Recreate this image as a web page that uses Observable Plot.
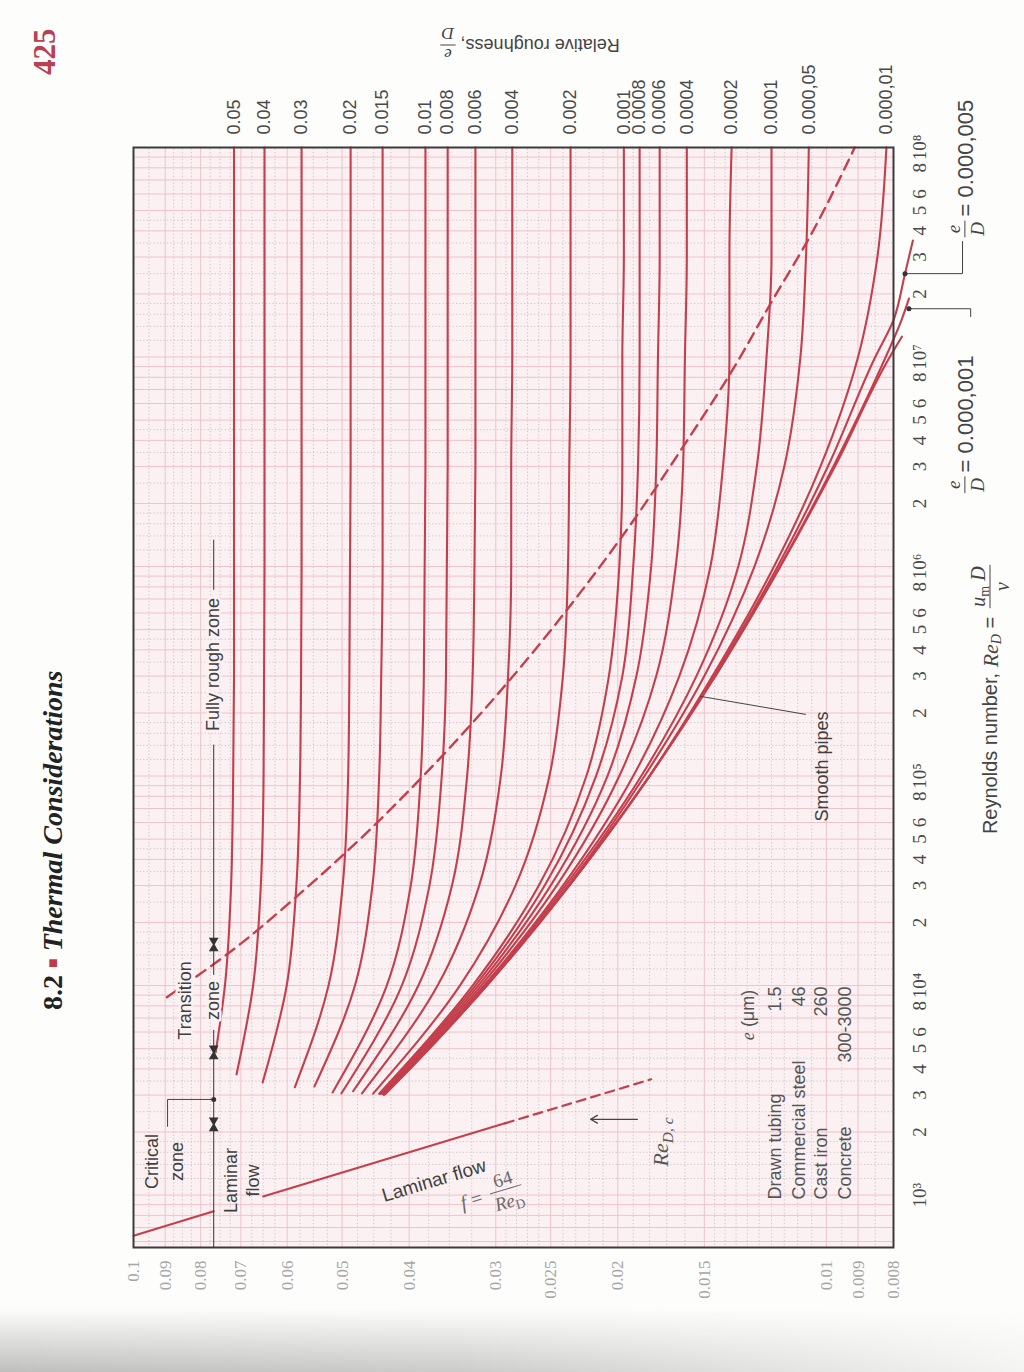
<!DOCTYPE html>
<html><head><meta charset="utf-8">
<script src="https://cdn.jsdelivr.net/npm/d3@7"></script>
<script src="https://cdn.jsdelivr.net/npm/@observablehq/plot@0.6"></script>
<style>
html,body{margin:0;padding:0;background:#fdfdfc;}
body{width:1024px;height:1372px;position:relative;overflow:hidden;}
#page{position:absolute;left:0;top:0;width:1372px;height:1024px;transform-origin:0 0;transform:translate(0px,1372px) rotate(-90deg);}
#page svg{position:absolute;left:0;top:0;}
.hdr{position:absolute;font-family:"Liberation Serif","Times New Roman",serif;font-weight:bold;white-space:nowrap;}
#shade{position:absolute;left:0;right:0;bottom:0;height:64px;pointer-events:none;
 background:linear-gradient(to right, rgba(253,253,252,0) 0%, rgba(253,253,252,0.2) 45%, rgba(253,253,252,0.85) 100%),
            linear-gradient(to bottom, rgba(140,140,140,0) 0%, rgba(140,140,140,0.55) 100%);}
</style></head>
<body>
<div id="page">
  <div class="hdr" style="left:362px;top:37px;font-size:28px;color:#222">8.2 <span style="color:#c0394b;font-size:16px;vertical-align:4px">&#9632;</span> <i>Thermal Considerations</i></div>
  <div class="hdr" style="left:1297px;top:27px;font-size:31px;color:#b8404f">425</div>
</div>
<div id="shade"></div>
<script>
// ---------------- data ----------------
const reDomain = [562, 1e8];
const fDomain = [0.008, 0.1];

const fTicks = [0.1,0.09,0.08,0.07,0.06,0.05,0.04,0.03,0.025,0.02,0.015,0.01,0.009,0.008];
const fTickLabels = ["0.1","0.09","0.08","0.07","0.06","0.05","0.04","0.03","0.025","0.02","0.015","0.01","0.009","0.008"];

const reTicks = [1e3,2e3,3e3,4e3,5e3,6e3,8e3, 1e4,2e4,3e4,4e4,5e4,6e4,8e4, 1e5,2e5,3e5,4e5,5e5,6e5,8e5,
                 1e6,2e6,3e6,4e6,5e6,6e6,8e6, 1e7,2e7,3e7,4e7,5e7,6e7,8e7, 1e8];
const reTickLabels = ["10³","2","3","4","5","6","8", "10⁴","2","3","4","5","6","8", "10⁵","2","3","4","5","6","8",
                      "10⁶","2","3","4","5","6","8", "10⁷","2","3","4","5","6","8", "10⁸"];

// relative roughness curves
const roughLabels = ["0.05","0.04","0.03","0.02","0.015","0.01","0.008","0.006","0.004","0.002",
                     "0.001","0.0008","0.0006","0.0004","0.0002","0.0001","0.000,05","0.000,01"];
const roughStartRe = [4800,3770,3450,3270,3300,3090,3060,3130,3060,3050,3050,3040,3040,3040,3040,3040,3040,3040];
const roughGridRe = [1e4,3e4,1e5,3e5,1e6,3e6,1e7,3e7,1e8];
// first value: f at the curve start, then f at each roughGridRe
const roughF = [
  [0.0761,0.0738,0.0723,0.0718,0.0716,0.0716,0.0716,0.0716,0.0716,0.0716],
  [0.0710,0.0672,0.0655,0.0649,0.0648,0.0647,0.0647,0.0647,0.0647,0.0647],
  [0.0651,0.0601,0.0582,0.0575,0.0573,0.0572,0.0572,0.0572,0.0572,0.0572],
  [0.0585,0.0523,0.0499,0.0490,0.0488,0.0487,0.0486,0.0486,0.0486,0.0486],
  [0.0548,0.0479,0.0452,0.0442,0.0439,0.0437,0.0437,0.0437,0.0437,0.0437],
  [0.0516,0.0431,0.0398,0.0385,0.0381,0.0380,0.0379,0.0379,0.0379,0.0379],
  [0.0501,0.0410,0.0374,0.0359,0.0354,0.0353,0.0352,0.0352,0.0352,0.0352],
  [0.0482,0.0388,0.0347,0.0330,0.0324,0.0322,0.0321,0.0321,0.0321,0.0321],
  [0.0468,0.0364,0.0317,0.0295,0.0288,0.0285,0.0285,0.0284,0.0284,0.0284],
  [0.0451,0.0338,0.0281,0.0251,0.0240,0.0236,0.0235,0.0234,0.0234,0.0234],
  [0.0442,0.0324,0.0260,0.0222,0.0206,0.0199,0.0197,0.0197,0.0196,0.0196],
  [0.0441,0.0321,0.0255,0.0215,0.0197,0.0190,0.0187,0.0186,0.0186,0.0186],
  [0.0439,0.0318,0.0250,0.0207,0.0188,0.0179,0.0176,0.0175,0.0174,0.0174],
  [0.0437,0.0315,0.0245,0.0199,0.0176,0.0165,0.0161,0.0160,0.0159,0.0159],
  [0.0435,0.0312,0.0240,0.0190,0.0163,0.0147,0.0141,0.0138,0.0138,0.0137],
  [0.0434,0.0310,0.0238,0.0185,0.0154,0.0134,0.0126,0.0122,0.0120,0.0120],
  [0.0434,0.0310,0.0236,0.0183,0.0150,0.0127,0.0115,0.0109,0.0107,0.0106],
  [0.0433,0.0309,0.0235,0.0180,0.0146,0.0119,0.0102,0.0090,0.00844,0.00819]
];

const smoothRe = [3000,4000,1e4,3e4,1e5,3e5,1e6,3e6,1e7,1.25e7];
const smoothF  = [0.0435,0.0399,0.0309,0.0235,0.0180,0.01446,0.01165,0.00972,0.00810,0.00778];
const rough5e6Re = [3e4,1e5,3e5,1e6,3e6,1e7,1.5e7,2.5e7,3.6e7];
const rough5e6F  = [0.0235,0.0180,0.01452,0.01176,0.00995,0.0085,0.0080,0.0077,0.0075];
const rough1e6Re = [3e5,1e6,3e6,1e7,1.5e7,1.9e7];
const rough1e6F  = [0.01446,0.01167,0.00977,0.00821,0.00779,0.0076];

// laminar flow f = 64/Re
const lamSolidA = [[640,0.1],[836,0.0766]];
const lamSolidB = [[985,0.065],[2200,0.0291]];
const lamDashed = [[2200,0.0291],[3570,0.0179]];

// fully-rough boundary (dashed)
const boundaryRe = [8800,14950,27900,45350,102700,296700,653600,1.43e6,3.97e6,8.53e6,1.83e7,3.89e7,1e8];
const boundaryF  = [0.0895,0.0716,0.0572,0.0486,0.0379,0.0284,0.0234,0.0196,0.0159,0.0137,0.0120,0.0105,0.0091];

// zone dimension line
const dimF = 0.0766;
const dimSegments = [[562,6170],[11300,1.42e5],[7.78e5,1.35e6]];
const zoneMarkRe = [2175,4800,15700];
const criticalDot = [[2860,0.0766]];
const criticalBracket = [[2860,0.0766],[2860,0.0893],[2128,0.0893]];

// annotations
const noteText = ["Critical","zone","Laminar","flow","Smooth pipes"];
const noteRe   = [1447,1447,1174,1174,1.11e5];
const noteF    = [0.0939,0.0864,0.0722,0.0671,0.01013];
const haloText = ["Transition","zone","Fully rough zone"];
const haloRe   = [8490,8490,3.41e5];
const haloF    = [0.0841,0.0766,0.0766];
const smoothLeader = [[1.97e5,0.01072],[2.4e5,0.01519]];
const recArrow = [[2300,0.01874,0.02189]];

const legendNames  = ["Drawn tubing","Commercial steel","Cast iron","Concrete"];
const legendValues = ["1.5","46","260","300-3000"];
const legendF      = [0.01184,0.01096,0.01016,0.00938];

const edDots = [[2.5e7,0.0077],[1.7e7,0.0076]];
const edLeader5 = [[2.5e7,0.0077],[2.5e7,0.00636],[3.56e7,0.00636]];
const edLeader1 = [[1.7e7,0.0076],[1.7e7,0.00619],[1.56e7,0.00619]];

// background graph-paper lines
const reGridMant = [1,2,3,4,5,6,7,8,9];
const reGridMinorMant = [1.2,1.4,1.6,1.8,2.5,3.5,4.5];
const reGridDecades = [100,1e3,1e4,1e5,1e6,1e7];
const fGridMinor = [0.0085,0.0095,0.0105,0.011,0.0115,0.012,0.0125,0.013,0.0135,0.014,0.0145,0.016,0.017,0.018,0.019,
  0.021,0.022,0.023,0.024,0.026,0.027,0.028,0.029,0.0325,0.035,0.0375,0.0425,0.045,0.0475,0.0525,0.055,0.0575,
  0.0625,0.065,0.0675,0.0725,0.075,0.0775,0.0825,0.085,0.0875,0.095];

// ---------------- build ----------------
const RED = "#c43f4c", INK = "#404040", BG = "#fbf0f2";
const SANS = "'Liberation Sans', Arial, sans-serif";
const SERIF = "'Liberation Serif', 'Times New Roman', serif";

const inDom = v => v >= reDomain[0] && v <= reDomain[1];
const reGridMajor = reGridDecades.flatMap(d => reGridMant.map(m => m*d)).concat([1e8]).filter(inDom);
const reGridMinor = reGridDecades.flatMap(d => reGridMinorMant.map(m => m*d)).filter(inDom);

const rows = [];
roughLabels.forEach((lab, i) => {
  rows.push({id: lab, re: roughStartRe[i], f: roughF[i][0]});
  roughGridRe.forEach((re, j) => rows.push({id: lab, re, f: roughF[i][j+1]}));
});
smoothRe.forEach((re, i) => rows.push({id: "smooth", re, f: smoothF[i]}));
rough5e6Re.forEach((re, i) => rows.push({id: "5e-6", re, f: rough5e6F[i]}));
rough1e6Re.forEach((re, i) => rows.push({id: "1e-6", re, f: rough1e6F[i]}));
const boundary = boundaryRe.map((re, i) => ({re, f: boundaryF[i]}));

const P0 = d => d[0], P1 = d => d[1];

const plot = Plot.plot({
  width: 1372, height: 1024,
  marginLeft: 124, marginRight: 148, marginTop: 133, marginBottom: 131,
  x: {type: "log", domain: reDomain, axis: null},
  y: {type: "log", domain: fDomain, axis: null},
  style: {background: "transparent", overflow: "visible", fontFamily: SANS},
  marks: [
    Plot.frame({fill: BG, stroke: null}),
    Plot.ruleX(reGridMinor, {stroke: "#c2babc", strokeWidth: 0.8, strokeDasharray: "1.2,2.2"}),
    Plot.ruleY(fGridMinor, {stroke: "#c2babc", strokeWidth: 0.8, strokeDasharray: "1.2,2.2"}),
    Plot.ruleX(reGridMajor, {stroke: "#efc3ca", strokeWidth: 1}),
    Plot.ruleY(fTicks, {stroke: "#efc3ca", strokeWidth: 1}),

    // curves
    Plot.line(rows, {x: "re", y: "f", z: "id", stroke: RED, strokeWidth: 2.1, curve: "monotone-x"}),
    Plot.line(lamSolidA, {x: P0, y: P1, stroke: RED, strokeWidth: 2.1}),
    Plot.line(lamSolidB, {x: P0, y: P1, stroke: RED, strokeWidth: 2.1}),
    Plot.line(lamDashed, {x: P0, y: P1, stroke: RED, strokeWidth: 2.2, strokeDasharray: "9,6"}),
    Plot.line(boundary, {x: "re", y: "f", stroke: RED, strokeWidth: 2.4, strokeDasharray: "11,7", curve: "monotone-x"}),

    Plot.frame({stroke: "#3b3b3b", strokeWidth: 2}),

    // zone dimension line
    Plot.ruleY(dimSegments, {y: dimF, x1: P0, x2: P1, stroke: "#333", strokeWidth: 1}),
    Plot.dot(zoneMarkRe, {x: d => d, y: dimF, symbol: "triangle", r: 3.6, fill: "#333", stroke: null, rotate: 90, dx: -4}),
    Plot.dot(zoneMarkRe, {x: d => d, y: dimF, symbol: "triangle", r: 3.6, fill: "#333", stroke: null, rotate: -90, dx: 4}),
    Plot.line(criticalBracket, {x: P0, y: P1, stroke: "#444", strokeWidth: 1}),
    Plot.dot(criticalDot, {x: P0, y: P1, r: 2.5, fill: "#333", stroke: null}),

    // leaders and arrow
    Plot.line(smoothLeader, {x: P0, y: P1, stroke: "#444", strokeWidth: 1}),
    Plot.arrow(recArrow, {x1: P0, x2: P0, y1: P1, y2: d => d[2], stroke: "#444", strokeWidth: 1.3, headLength: 9}),
    Plot.line(edLeader5, {x: P0, y: P1, stroke: "#444", strokeWidth: 1}),
    Plot.line(edLeader1, {x: P0, y: P1, stroke: "#444", strokeWidth: 1}),
    Plot.dot(edDots, {x: P0, y: P1, r: 2.5, fill: "#333", stroke: null}),

    // tick labels
    Plot.text(reTicks, {x: d => d, text: (d, i) => reTickLabels[i], frameAnchor: "bottom", dy: 32,
      fontFamily: SERIF, fontSize: 19, fill: "#4a4a4a"}),
    Plot.text(fTicks, {y: d => d, text: (d, i) => fTickLabels[i], frameAnchor: "left", dx: -13, textAnchor: "end",
      fontFamily: SERIF, fontSize: 17, fill: "#a6a6a6"}),
    Plot.text(roughLabels, {y: (d, i) => roughF[i][9], text: d => d, frameAnchor: "right", dx: 13, textAnchor: "start",
      fontSize: 18, fill: "#4a4a4a"}),

    // annotations
    Plot.text(noteText, {x: (d, i) => noteRe[i], y: (d, i) => noteF[i], text: d => d, fontSize: 18, fill: INK}),
    Plot.text(haloText, {x: (d, i) => haloRe[i], y: (d, i) => haloF[i], text: d => d, fontSize: 18, fill: INK,
      stroke: BG, strokeWidth: 5, paintOrder: "stroke"}),
    Plot.text(legendNames, {x: 953, y: (d, i) => legendF[i], text: d => d, textAnchor: "start", fontSize: 18, fill: "#555"}),
    Plot.text(legendValues, {x: 9900, y: (d, i) => legendF[i], text: d => d, textAnchor: "end", fontSize: 18, fill: "#555"})
  ]
});

document.getElementById("page").appendChild(plot);

// ---------------- rich labels placed through the plot's scales ----------------
const sx = plot.scale("x"), sy = plot.scale("y");
const px = v => sx.apply(v), py = v => sy.apply(v);
const svg = d3.select(plot);

function rich(parent, x, y, parts, o = {}) {
  const size = o.size || 18;
  const t = parent.append("text").attr("x", x).attr("y", y)
    .attr("text-anchor", o.anchor || "start").attr("dominant-baseline", "central")
    .attr("fill", o.fill || INK).attr("font-size", size).attr("font-family", SANS);
  for (const p of parts) {
    const s = t.append("tspan").text(p.t);
    if (p.serif) s.attr("font-family", SERIF);
    if (p.italic) s.attr("font-style", "italic");
    if (p.big) s.attr("font-size", size * 1.1);
    if (p.sub) s.attr("font-size", size * 0.7).attr("dy", size * 0.3);
    if (p.unsub) s.attr("dy", -size * 0.3);
  }
  return t;
}
function len(t, fallback) {
  try { const l = t.node().getComputedTextLength(); return l > 0 ? l : fallback; } catch (e) { return fallback; }
}
function frac(parent, cx, cy, num, den, o = {}) {
  const size = o.size || 16;
  const n = rich(parent, cx, cy - size * 0.6, num, {...o, anchor: "middle"});
  const d = rich(parent, cx, cy + size * 0.62, den, {...o, anchor: "middle"});
  const w = Math.max(len(n, size), len(d, size)) + 3;
  parent.append("line").attr("x1", cx - w / 2).attr("x2", cx + w / 2).attr("y1", cy).attr("y2", cy)
    .attr("stroke", o.fill || INK).attr("stroke-width", 1);
  return w;
}
const g = svg.append("g");

// laminar flow label, aligned with the laminar line
const ang = Math.atan2(py(64 / 2000) - py(64 / 1000), px(2000) - px(1000)) * 180 / Math.PI;
const lam = g.append("g").attr("transform", `translate(${px(1190)},${py(0.0368)}) rotate(${ang})`);
rich(lam, 0, 0, [{t: "Laminar flow"}], {anchor: "middle", size: 19, fill: INK});
const fg = lam.append("g").attr("transform", "translate(52,30)");
rich(fg, -22, 0, [{t: "f", serif: true, italic: true}, {t: " =", serif: true}], {anchor: "middle", size: 20, fill: "#6a6a6a"});
frac(fg, 14, 0, [{t: "64", serif: true}], [{t: "Re", serif: true, italic: true}, {t: "D", serif: true, sub: true}], {size: 19, fill: "#6a6a6a"});

// Re_D,c
rich(g, px(1803), py(0.01735), [{t: "Re", serif: true, italic: true}, {t: "D, c", serif: true, italic: true, sub: true}],
  {anchor: "middle", size: 22, fill: "#555"});

// legend header
rich(g, px(7280), py(0.01295), [{t: "e", serif: true, italic: true}, {t: " (μm)"}], {anchor: "middle", size: 18, fill: "#555"});

// x axis title
{
  const [r0, r1] = sx.range;
  const cx = (r0 + r1) / 2, cy = sy.range[0] + 97;
  const tg = g.append("g");
  const t1 = rich(tg, 0, 0, [{t: "Reynolds number, "}, {t: "Re", serif: true, italic: true, big: true},
    {t: "D", serif: true, italic: true, sub: true}, {t: " = ", unsub: true}], {size: 20, fill: "#444"});
  const w1 = len(t1, 230);
  const fgp = tg.append("g");
  const fw = frac(fgp, 0, 0, [{t: "u", serif: true, italic: true}, {t: "m", serif: true, sub: true}, {t: " D", serif: true, italic: true, unsub: true}],
    [{t: "ν", serif: true, italic: true}], {size: 20, fill: "#444"});
  fgp.attr("transform", `translate(${w1 + fw / 2 + 3},0)`);
  const total = w1 + fw + 6;
  tg.attr("transform", `translate(${cx - total / 2},${cy})`);
}

// right axis title (relative roughness)
{
  const ux = sx.range[1] + 103, vy = (sy.range[0] + sy.range[1]) / 2 + 17;
  const rg = g.append("g").attr("transform", `translate(${ux},${vy}) rotate(-90)`);
  const inner = rg.append("g");
  const t = rich(inner, 0, 0, [{t: "Relative roughness, "}], {size: 18, fill: "#444"});
  const w = len(t, 160);
  const fgp = inner.append("g");
  const fw = frac(fgp, 0, 0, [{t: "e", serif: true, italic: true}], [{t: "D", serif: true, italic: true}], {size: 17, fill: "#444"});
  fgp.attr("transform", `translate(${w + fw / 2},0)`);
  inner.attr("transform", `translate(${-(w + fw) / 2},0)`);
}

// e/D = ... labels outside the frame
for (const [re, val] of [[2.47e6, "0.000,001"], [4.11e7, "0.000,005"]]) {
  const cx = px(re), cy = py(0.0063);
  const fw = frac(g, cx, cy, [{t: "e", serif: true, italic: true}], [{t: "D", serif: true, italic: true}], {size: 19, fill: "#444"});
  rich(g, cx + fw / 2 + 4, cy, [{t: "= " + val}], {size: 22, fill: "#444"});
}
</script>
</body></html>
